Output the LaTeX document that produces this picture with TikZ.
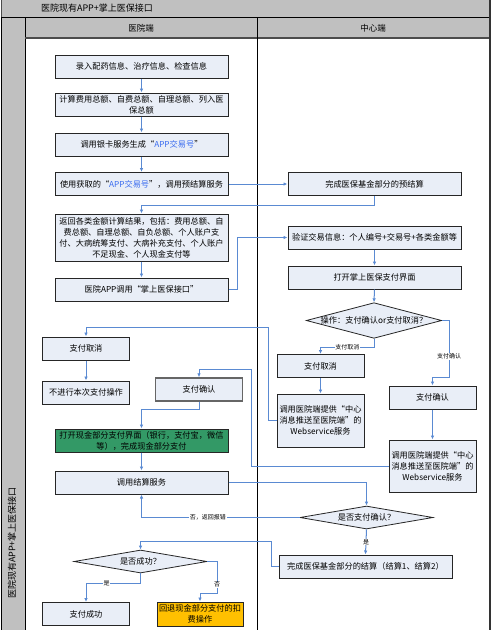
\documentclass[tikz,border=0pt]{standalone}
\usepackage{fontspec}
\setmainfont{Noto Sans CJK SC}
\usepackage{tikz}
\usetikzlibrary{shapes.geometric}
\usetikzlibrary{arrows.meta}
\usetikzlibrary{positioning}
\definecolor{lanegray}{HTML}{C0C0C0}
\definecolor{boxfill}{HTML}{E9EEF7}
\definecolor{flowblue}{HTML}{5A8AD2}
\definecolor{cashgreen}{HTML}{339966}
\definecolor{refundyellow}{HTML}{FFC000}
\definecolor{appblue}{HTML}{3A6CF0}
\tikzset{
% Define standard arrow tip
>={Latex[length=4pt, width=3.5pt]},
stepbox/.style={rectangle, draw=black!85, line width=1pt,
  fill=boxfill, align=center, inner sep=1pt,
  minimum width=173pt, minimum height=23pt,
  font=\fontsize{8.2}{11}\selectfont},
smallbox/.style={stepbox, minimum width=87pt},
ifbox/.style={diamond, draw=black!85, line width=0.8pt,
  fill=boxfill, inner sep=0pt, align=center,
  font=\fontsize{8.2}{10}\selectfont},
flow/.style={draw=flowblue, line width=1pt, ->},
flowtag/.style={fill=white, inner sep=0.6pt, font=\fontsize{6}{7}\selectfont}
}

\begin{document}
\begin{tikzpicture}[x=1pt, y=-1pt]
  \useasboundingbox (0,0) rectangle (492,630);

  % lanes
  \filldraw[fill=lanegray, draw=black!70] (1,-2) rectangle (490,17);
  \filldraw[fill=lanegray, draw=black] (1,17) rectangle (25,632);
  \filldraw[fill=lanegray, draw=black] (25,17) rectangle (490,38);
  \draw[black!70, line width=1.2pt] (25,38) -- (490,38);
  \draw[black, line width=0.9pt] (257,17) -- (257,632);
  \draw[black!80, line width=1.6pt] (490,-2) -- (490,632);

  \node[font=\fontsize{9}{10}\selectfont] (title) at (97,8) {医院现有APP+掌上医保接口};
  \node[rotate=90, font=\fontsize{9}{10}\selectfont] (lanelabel) at (12,543) {医院现有APP+掌上医保接口};
  \node[font=\fontsize{8.5}{10}\selectfont] (hosphead) at (141,28) {医院端};
  \node[font=\fontsize{8.5}{10}\selectfont] (centerhead) at (373,28) {中心端};

  % hospital side
  \node[stepbox] (box1) at (141.5,66.5) {录入配药信息、治疗信息、检查信息};
  \node[stepbox] (box2) at (141.5,104.5) {计算费用总额、自费总额、自理总额、列入医\\保总额};
  \node[stepbox] (box3) at (141.5,144.5) {调用银卡服务生成“\textcolor{appblue}{APP交易号}”};
  \node[stepbox] (box4) at (141.5,184) {使用获取的“\textcolor{appblue}{APP交易号}”，调用预结算服务};
  \node[stepbox, minimum height=47pt] (box5) at (141.5,237.5) {返回各类金额计算结果，包括：费用总额、自\\费总额、自理总额、自负总额、个人账户支\\付、大病统筹支付、大病补充支付、个人账户\\不足现金、个人现金支付等};
  \node[stepbox] (box6) at (141.5,289.5) {医院APP调用“掌上医保接口”};

  % center side
  \node[stepbox] (box7) at (374.5,184) {完成医保基金部分的预结算};
  \node[stepbox] (box8) at (374.5,237.5) {验证交易信息：个人编号+交易号+各类金额等};
  \node[stepbox] (box9) at (374.5,277.5) {打开掌上医保支付界面};
  \node[ifbox, aspect=3.8, minimum width=132pt, minimum height=35pt] (if1) at (374,320.5) {操作：支付确认or支付取消？};
  \node[smallbox] (box10) at (320.5,366) {支付取消};
  \node[smallbox, minimum height=53pt] (box11) at (320.5,420.5) {调用医院端提供“中心\\消息推送至医院端”的\\Webservice服务};
  \node[smallbox] (box12) at (432.5,397.5) {支付确认};
  \node[smallbox, minimum height=52pt] (box13) at (432.5,466) {调用医院端提供“中心\\消息推送至医院端”的\\Webservice服务};

  % payment result
  \node[smallbox] (box14) at (86,348.5) {支付取消};
  \node[smallbox] (box15) at (86,392.5) {不进行本次支付操作};
  \node[smallbox, draw=black!60, line width=1.4pt] (box16) at (199,389.5) {支付确认};
  \node[stepbox, fill=cashgreen] (box17) at (141.5,440.5) {打开现金部分支付界面（银行，支付宝，微信\\等），完成现金部分支付};
  \node[stepbox] (box18) at (141.5,482.5) {调用结算服务};
  \node[ifbox, aspect=5.8, minimum width=133pt, minimum height=23pt] (if2) at (366.5,517.5) {是否支付确认？};
  \node[stepbox] (box19) at (365.5,566.5) {完成医保基金部分的结算（结算1、结算2）};
  \node[ifbox, aspect=5.8, minimum width=133pt, minimum height=23pt] (if3) at (140.5,561.5) {是否成功？};
  \node[smallbox] (box20) at (86,614) {支付成功};
  \node[smallbox, fill=refundyellow, minimum width=86pt, minimum height=24pt] (box21) at (200,614) {回退现金部分支付的扣\\费操作};

  \coordinate (cross1) at (449,377);
  \coordinate (cross2) at (268,327);
  \coordinate (cross3) at (251,369);
  \coordinate (cross4) at (271,541);
  \coordinate (cross5) at (217,593);

  \draw[flow] (box1.south) -- (box2.north);
  \draw[flow] (box2.south) -- (box3.north);
  \draw[flow] (box3.south) -- (box4.north);
  \draw[flow] (box4.east) -- (box7.west);
  \draw[flow] (box7.south) -- ++(0,9) -| (box5.north);
  \draw[flow] (box5.south) -- (box6.north);
  \draw[flow] (box6.east) -- ++(9,0) |- (box8.west);
  \draw[flow] (box8.south) -- (box9.north);
  \draw[flow] (box9.south) -- (if1.north);

  \draw[flow] (if1.south) -- ++(0,9) -| node[flowtag, pos=0.25]{支付取消} (box10.north);
  \draw[flow] (if1.east) -| node[flowtag, pos=0.82]{支付确认} (cross1) -| (box12.north);
  \draw[flow] (box10.south) -- (box11.north);
  \draw[flow] (box12.south) -- (box13.north);

  \draw[flow] (box11.west) -| (cross2) -| (box14.north);
  \draw[flow] (box14.south) -- (box15.north);
  \draw[flow] (box13.west) -| (cross3) -| (box16.north);
  \draw[flow] (box16.south) -- ++(0,8) -| (box17.north);
  \draw[flow] (box17.south) -- (box18.north);

  \draw[flow] (box18.east) -| (if2.north);
  \draw[flow] (if2.west) -| node[flowtag, pos=0.29]{否，返回报错} (box18.south);
  \draw[flow] (if2.south) -- node[flowtag]{是} (box19.north);
  \draw[flow] (box19.west) -| (cross4) -| (if3.north);
  \draw[flow] (if3.south) -- ++(0,10) -| node[flowtag, pos=0.31]{是} (box20.north);
  \draw[flow] (if3.east) -| node[flowtag, pos=0.87]{否} (cross5) -| (box21.north);
\end{tikzpicture}
\end{document}
